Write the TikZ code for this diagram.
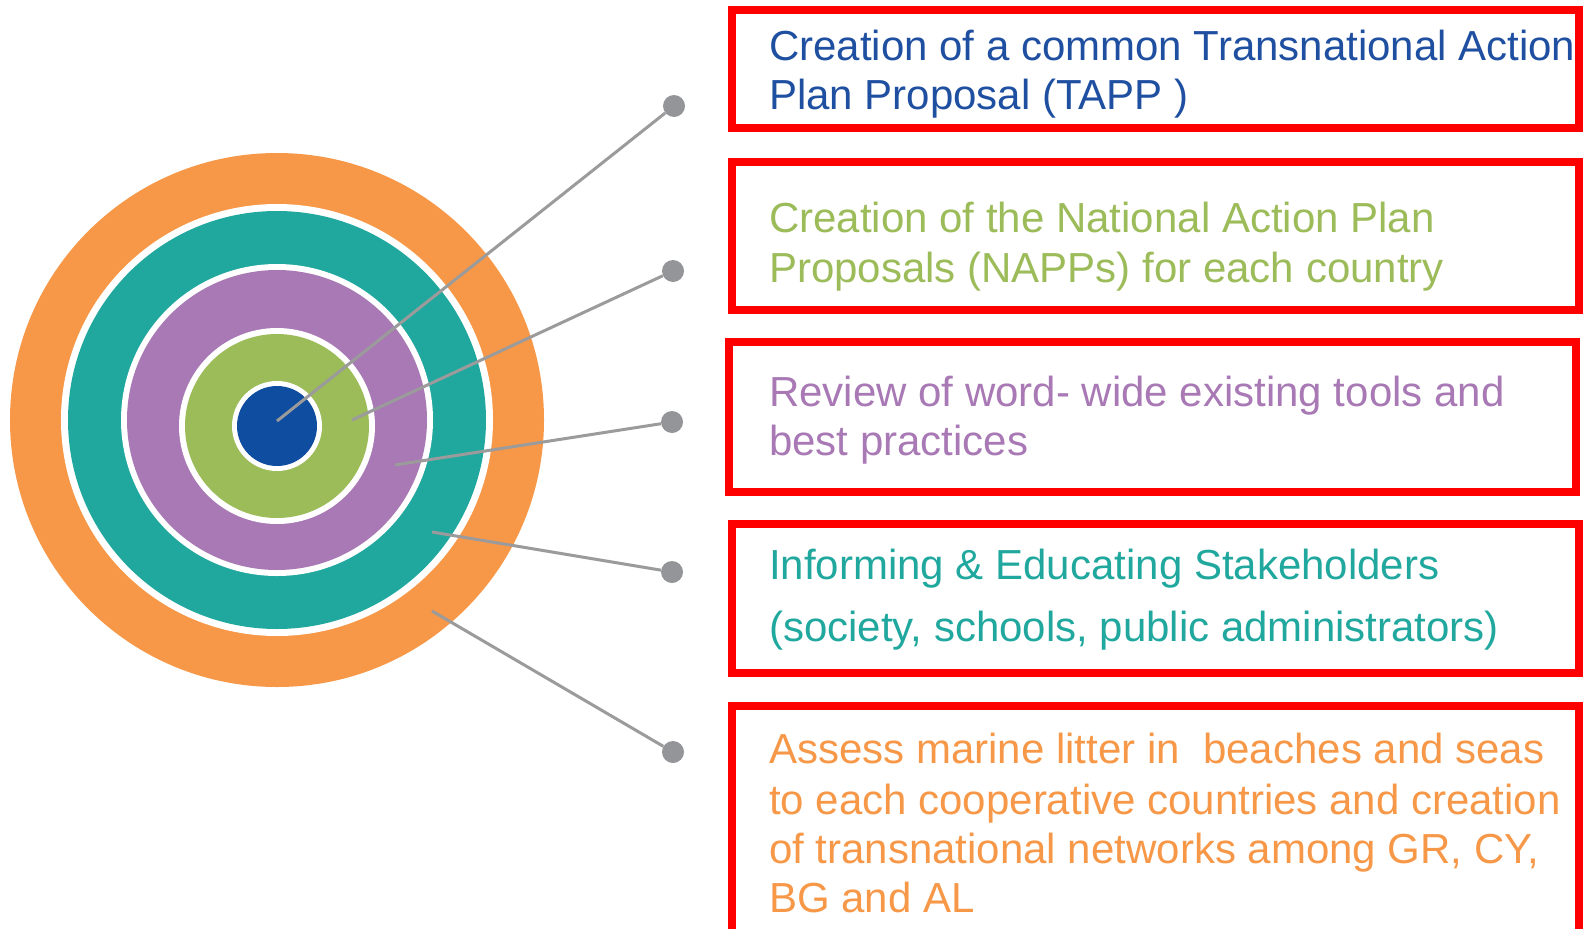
\documentclass[tikz,border=0pt]{standalone}
\usepackage{fontspec}
\setmainfont{Liberation Sans}
\definecolor{orng}{HTML}{F79848}
\definecolor{tealc}{HTML}{20A89E}
\definecolor{purp}{HTML}{A879B4}
\definecolor{grn}{HTML}{9CBB59}
\definecolor{blu}{HTML}{0F4DA0}
\definecolor{txtblue}{HTML}{1F4FA0}
\definecolor{lgray}{HTML}{9B9B9B}
\definecolor{dgray}{HTML}{939598}
\begin{document}
\begin{tikzpicture}[x=1pt,y=-1pt,
  txt/.style={anchor=base west, inner sep=0pt, font=\fontsize{42}{49}\selectfont},
  redbox/.style={draw=red, line width=8pt},
  dot/.style={circle, fill=dgray, minimum size=22pt, inner sep=0pt},
  lead/.style={draw=lgray, line width=3pt}]
\clip (0,0) rectangle (1593,929);
\fill[white] (0,0) rectangle (1593,929);
% target rings
\fill[orng] (277,420) circle[radius=267pt];
\fill[white] (277,420) circle[radius=216pt];
\fill[tealc] (277,420) circle[radius=209pt];
\fill[white] (277,420) circle[radius=156pt];
\fill[purp] (277,420) circle[radius=150pt];
\fill[white] (277,426) circle[radius=98pt];
\fill[grn] (277,426) circle[radius=92pt];
\fill[white] (277,426) circle[radius=45pt];
\fill[blu] (277,426) circle[radius=40pt];
% start points and dots
\coordinate (s1) at (277,421);
\coordinate (s2) at (352,420);
\coordinate (s3) at (395,465);
\coordinate (s4) at (432,532);
\coordinate (s5) at (432,611);
\node[dot] (d1) at (674,106) {};
\node[dot] (d2) at (673,271) {};
\node[dot] (d3) at (672,422) {};
\node[dot] (d4) at (672,572) {};
\node[dot] (d5) at (673,752) {};
\draw[lead] (s1) -- (d1);
\draw[lead] (s2) -- (d2);
\draw[lead] (s3) -- (d3);
\draw[lead] (s4) -- (d4);
\draw[lead] (s5) -- (d5);
% boxes
\draw[redbox] (732,10) rectangle (1579,128);
\draw[redbox] (732,162) rectangle (1579,310);
\draw[redbox] (729,342) rectangle (1576,492);
\draw[redbox] (732,524) rectangle (1579,673);
\draw[redbox] (732,706) rectangle (1579,960);
% texts
\node[txt, text=txtblue] (t1a) at (769,60) {Creation of a common Transnational Action};
\node[txt, text=txtblue] (t1b) at (769,109) {Plan Proposal (TAPP )};
\node[txt, text=grn] (t2a) at (769,232) {Creation of the National Action Plan};
\node[txt, text=grn] (t2b) at (769,282) {Proposals (NAPPs) for each country};
\node[txt, text=purp] (t3a) at (769,406) {Review of word- wide existing tools and};
\node[txt, text=purp] (t3b) at (769,455) {best practices};
\node[txt, text=tealc] (t4a) at (769,579) {Informing \& Educating Stakeholders};
\node[txt, text=tealc] (t4b) at (769,641) {(society, schools, public administrators)};
\node[txt, text=orng] (t5a) at (769,763) {Assess marine litter in\ \ beaches and seas};
\node[txt, text=orng] (t5b) at (769,814) {to each cooperative countries and creation};
\node[txt, text=orng] (t5c) at (769,863) {of transnational networks among GR, CY,};
\node[txt, text=orng] (t5d) at (769,912) {BG and AL};
\end{tikzpicture}
\end{document}
